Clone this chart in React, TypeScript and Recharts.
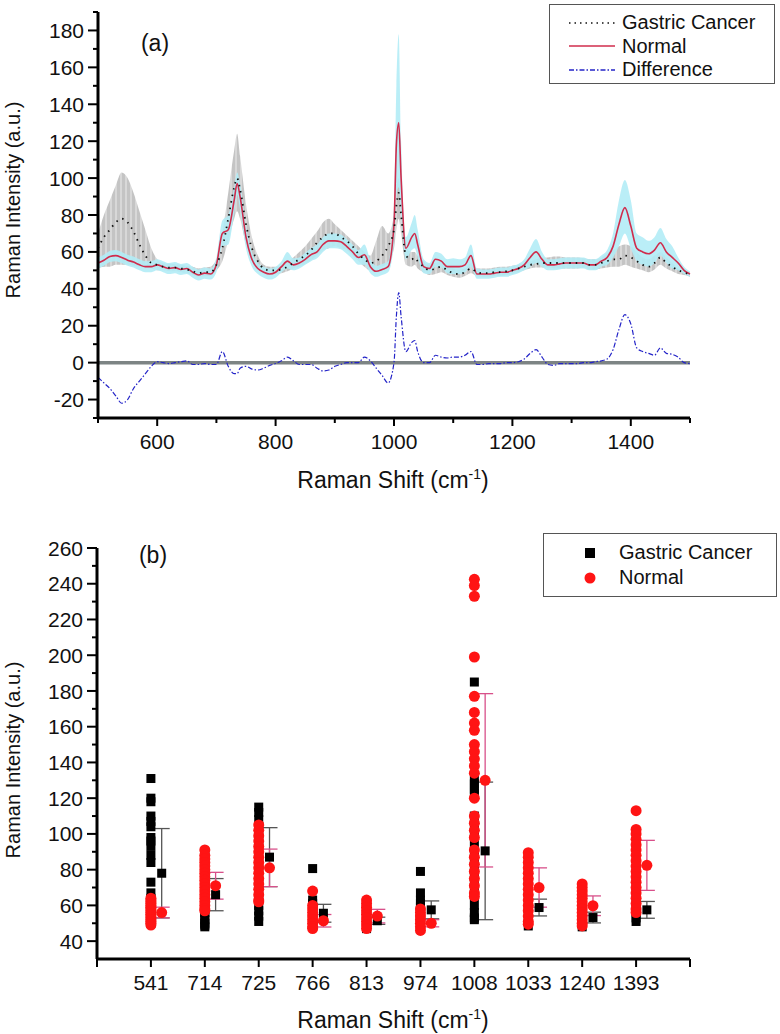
import {
  ComposedChart,
  Line,
  Area,
  Scatter,
  XAxis,
  YAxis,
  ReferenceLine,
  ErrorBar,
} from "recharts";

const FONT = '"Liberation Sans", Arial, Helvetica, sans-serif';

// ---- (a) mean spectra ----
const shift = [
  500, 510, 520, 530, 540, 550, 560, 570, 580, 590,
  600, 610, 620, 630, 640, 650, 660, 670, 680, 690,
  700, 710, 720, 730, 735, 740, 750, 760, 770, 780,
  790, 800, 810, 820, 830, 840, 850, 860, 870, 880,
  890, 900, 910, 920, 930, 940, 950, 960, 970, 980,
  990, 1000, 1004, 1008, 1012, 1020, 1030, 1035, 1040, 1050,
  1060, 1070, 1080, 1090, 1100, 1110, 1120, 1130, 1140, 1150,
  1160, 1170, 1180, 1190, 1200, 1210, 1220, 1230, 1240, 1250,
  1260, 1270, 1280, 1290, 1300, 1310, 1320, 1330, 1340, 1350,
  1360, 1370, 1380, 1390, 1400, 1410, 1420, 1430, 1440, 1450,
  1460, 1470, 1480, 1490, 1500,
];

const normalMean = [
  54, 55.5, 57.5, 58, 57, 55.5, 54.5, 53, 52, 52,
  53, 52, 51, 51.5, 50.5, 51, 49, 47.5, 48.5, 48,
  53, 70, 72, 88, 97, 90, 68, 56, 51, 49,
  48, 49, 52, 55, 53, 54, 56, 58.5, 60, 64,
  66, 66, 65.5, 63, 60, 57, 58.5, 52, 49.5, 50.5,
  52, 75, 118, 130, 100, 62, 68, 70, 64, 52,
  51, 56, 55, 52, 52, 52, 53, 58, 48, 48,
  48, 48.5, 49, 49, 50, 51, 53, 57, 60, 56,
  53, 53, 53.5, 54, 54, 54, 54, 53, 53, 55,
  57, 63, 75, 84, 74, 62, 60, 59, 61, 65,
  60, 57, 54, 50, 48,
];
const normalLow = [
  51, 52.5, 54.5, 55, 54, 52.5, 51.5, 50, 49, 49,
  50, 49, 48, 48.5, 47.5, 48, 46, 44.5, 45.5, 45,
  49, 63, 64, 81, 91, 83, 62, 52, 48, 46,
  45, 46, 49, 51, 50, 51, 53, 55, 56.5, 60,
  62, 62, 61.5, 59, 56, 53, 53, 48.5, 46.5, 47.5,
  49, 65, 90, 95, 80, 56, 61, 62, 57, 48.5,
  48, 52, 51.5, 48.5, 48, 48, 49, 52, 45.5, 45.5,
  45.5, 46, 46.5, 46.5, 47.5, 48.5, 50, 52, 54, 52,
  50, 50, 50.5, 51, 51, 51, 51, 50, 50, 52,
  53, 57, 63, 70, 62, 55, 53, 52, 54, 58,
  54, 51, 50, 48, 46.5,
];
const normalHigh = [
  57, 58.5, 60.5, 61, 60, 58.5, 57.5, 56, 55, 55,
  56, 55, 54, 54.5, 53.5, 54, 52, 50.5, 51.5, 51,
  57, 77, 80, 95, 103, 97, 74, 60, 54, 52,
  51, 52, 55, 60, 56.5, 57, 59.5, 62, 64, 68,
  70, 70, 69.5, 67, 64, 61, 64, 56, 52.5, 53.5,
  55, 85, 150, 178, 120, 68, 76, 80, 72, 56,
  54, 60, 59, 56, 56.5, 56, 57, 64, 51, 50.5,
  50.5, 51, 51.5, 51.5, 52.5, 53.5, 56, 62, 67, 60,
  56, 56, 56.5, 57, 57, 57, 57, 56, 56, 58,
  61, 70, 88, 99, 88, 70, 68, 66, 68, 73,
  67, 63, 57, 52, 49.5,
];

const cancerMean = [
  62, 68, 72, 76, 78, 76, 71, 64, 58, 54,
  53, 52, 51.5, 51.5, 51, 50.5, 49.5, 48.5, 49, 49,
  53, 62, 78, 95, 100, 94, 75, 62, 55, 51,
  50, 50, 50.5, 52, 54, 56, 58, 61, 65, 68,
  70, 70, 68, 66, 63, 59, 56, 54, 55, 58,
  63, 72, 85, 92, 80, 58, 56, 57, 55, 52,
  50, 51, 52, 50, 48.5, 48, 49, 51, 49, 48.5,
  48.5, 49, 49, 49.5, 50, 51, 52, 53, 53.5, 54,
  54, 54, 54, 54, 54, 54, 54, 53, 53, 54,
  55, 56, 56, 58, 57, 55, 53, 52, 54, 57,
  54, 52, 50, 49, 47.5,
];
const cancerLow = [
  51, 52, 52, 53, 53, 53, 52.5, 52, 51.5, 51,
  50, 50, 49.5, 49.5, 49, 48.5, 47.5, 46.5, 47, 47,
  50, 55, 66, 78, 82, 78, 64, 56, 52, 49,
  48, 48, 48.5, 49.5, 51, 52, 53.5, 55.5, 58, 61,
  62, 63, 62, 61, 58, 55, 52, 50, 50, 52,
  54, 62, 72, 78, 70, 53, 52, 53, 51, 49,
  47.5, 48, 49, 47.5, 46.5, 46, 47, 48.5, 47, 46.5,
  46.5, 47, 47, 47.5, 48, 49, 50, 51, 51.5, 51.5,
  51.5, 51, 51, 51, 51, 51, 51.5, 50.5, 50.5, 51,
  51.5, 52, 52, 53, 52, 51, 50, 49, 50.5, 53,
  51, 49.5, 48, 47.5, 46.5,
];
const cancerHigh = [
  70, 80, 88, 96, 103, 100, 92, 82, 72, 62,
  56, 54, 53.5, 53.5, 53, 52.5, 52, 51, 51.5, 52,
  56, 70, 92, 115, 124, 112, 86, 68, 58, 53,
  52, 52, 52.5, 55, 57, 60, 63, 67, 71, 76,
  78, 75, 72, 69, 66, 63, 60, 58, 66, 74,
  70, 80, 95, 100, 88, 63, 60, 60, 58, 55,
  53, 54, 55, 53, 51, 50.5, 51, 54, 51, 51,
  51, 51.5, 52, 52, 52.5, 53, 54, 55, 56, 57,
  57, 57.5, 57.5, 57, 57, 57, 56.5, 56, 56, 57,
  59, 61, 63, 64, 63, 60, 57, 56, 58, 60,
  57, 54, 51, 49.5, 48,
];

const difference = [
  -8, -11, -14, -18, -22, -20, -14, -10, -6, -2,
  0.5, 0, -0.5, 0, 0.5, 1, -1, -1, -0.5, -1,
  -1, 6, -2, -6, -6, -3, -2, -3.5, -4, -3,
  -1.5, -0.5, 1, 3, 1, -1, -1, -1, -3, -4.5,
  -4, -2, -1, 0, 0, 0, 3, 1, -3, -7,
  -11, 0, 25, 38, 25, 6, 11, 12, 6, 0,
  0, 4, 3, 2.5, 3, 3, 4, 6, -1, -1,
  -0.5, -0.5, -0.5, 0, 0, 0.5, 2, 5, 7, 3,
  -1, -1.5, -0.5, -0.5, -0.5, -0.5, 0, 0, 0.5, 1,
  2, 7, 18, 26, 21, 8, 6, 5, 4, 8,
  5, 4.5, 3, 0, -0.5,
];

const spectrumRows = shift.map((s, i) => ({
  shift: s,
  normal: normalMean[i],
  cancer: cancerMean[i],
  difference: difference[i],
  normalBand: [normalLow[i], normalHigh[i]],
  cancerBand: [cancerLow[i], cancerHigh[i]],
}));

// ---- (b) intensities at selected peaks ----
const peaks = ["541", "714", "725", "766", "813", "974", "1008", "1033", "1240", "1393"];

const cancerPoints = [
  [131, 120, 118, 110, 107, 104, 98, 96, 93, 88, 84, 73, 67, 64, 62, 60, 58, 56, 55, 54, 53, 52, 51, 50],
  [88, 86, 84, 82, 80, 78, 76, 74, 72, 70, 68, 66, 64, 62, 60, 58, 56, 54, 52, 50, 49, 48],
  [115, 112, 108, 104, 100, 96, 92, 88, 84, 80, 76, 72, 68, 64, 60, 57, 54, 51],
  [80.6, 63, 61, 59, 57, 55, 53, 51, 49, 48.5],
  [60, 58, 56, 54, 52, 50, 48, 47],
  [79, 67, 63, 61, 59, 57, 55, 53, 51],
  [185, 130, 128, 125, 123, 110, 105, 100, 95, 90, 85, 80, 75, 70, 65, 60, 56, 53, 52],
  [85, 80, 75, 70, 65, 60, 56, 52, 48.5],
  [70, 66, 62, 58, 54, 50, 48],
  [80, 75, 70, 65, 60, 56, 53, 51],
];
const normalPoints = [
  [64, 63, 62, 61, 60, 59, 58, 57, 56, 55, 54, 53, 52, 51, 50, 49],
  [91, 88, 86, 84, 82, 80, 78, 76, 74, 72, 70, 68, 66, 64, 62, 60, 58, 57],
  [105, 102, 99, 96, 93, 90, 87, 84, 81, 78, 75, 72, 69, 66, 63, 62],
  [68, 60, 58, 56, 54, 52, 50, 48, 47],
  [63, 61, 59, 57, 55, 53, 51, 49, 47],
  [58, 56, 54, 52, 50, 48, 46],
  [242.5, 239, 233, 199, 177, 168, 162, 158, 150, 146, 142, 138, 134, 120, 110, 106, 102, 98, 91, 87, 83, 79, 75, 71, 67, 65],
  [89.5, 87, 84, 81, 78, 75, 72, 69, 66, 63, 60, 57, 54, 51, 49.5],
  [72, 70, 68, 66, 64, 62, 60, 58, 56, 54, 52, 50, 48.5],
  [113, 102.5, 100, 97, 94, 91, 88, 85, 82, 79, 76, 73, 70, 67, 64, 61, 58, 56],
];
const cancerAvg = [78, 66, 87, 55.6, 51.4, 57.5, 90.5, 58.8, 53.2, 57.5];
const cancerSD = [25, 9, 16.5, 5, 2, 5, 38.5, 4.7, 3, 4.7];
const normalAvg = [56, 71, 81, 51.4, 54, 50, 130, 70, 59.8, 82.4];
const normalSD = [3, 7.5, 10.5, 3.5, 3.8, 2, 48.5, 11, 5.5, 14];

const cancerScatter = cancerPoints.flatMap((vals, i) => vals.map((v) => ({ x: i + 1, y: v })));
const normalScatter = normalPoints.flatMap((vals, i) => vals.map((v) => ({ x: i + 1, y: v })));
const cancerMeanPts = cancerAvg.map((v, i) => ({ x: i + 1.2, y: v, sd: cancerSD[i] }));
const normalMeanPts = normalAvg.map((v, i) => ({ x: i + 1.2, y: v, sd: normalSD[i] }));

// ---- axis helpers ----
function yTick(labeled: number[]) {
  return (props: any) => {
    const { x, y, payload } = props;
    const v = payload.value;
    const major = labeled.includes(v);
    return (
      <g>
        <line x1={x} x2={x - (major ? 10 : 5)} y1={y} y2={y} stroke="#000" strokeWidth={2} />
        {major && (
          <text x={x - 14} y={y} dy="0.36em" textAnchor="end" fontSize={21} fontFamily={FONT} fill="#111">
            {v}
          </text>
        )}
      </g>
    );
  };
}

function xTick(labelFor: (v: number) => string | null, majorLen = 8, minorLen = 5) {
  return (props: any) => {
    const { x, y, payload } = props;
    const label = labelFor(payload.value);
    return (
      <g>
        <line x1={x} x2={x} y1={y} y2={y + (label ? majorLen : minorLen)} stroke="#000" strokeWidth={2} />
        {label && (
          <text x={x} y={y + 23} dy="0.36em" textAnchor="middle" fontSize={21} fontFamily={FONT} fill="#111">
            {label}
          </text>
        )}
      </g>
    );
  };
}

const boxStyle = (left: number, top: number, width: number, height: number): React.CSSProperties => ({
  position: "absolute",
  left,
  top,
  width,
  height,
  border: "1px solid #555",
  background: "#fff",
  fontFamily: FONT,
  fontSize: 20,
  color: "#111",
  boxSizing: "border-box",
  paddingTop: 6,
});

const topLegendItems = [
  { name: "Gastric Cancer", stroke: "#111", dash: "1.5 4" },
  { name: "Normal", stroke: "#d02c4c", dash: undefined },
  { name: "Difference", stroke: "#2323c8", dash: "5 2 1.5 2" },
];

const TopLegend = () => (
  <div style={boxStyle(549, 4, 226, 80)}>
    {topLegendItems.map((it) => (
      <div key={it.name} style={{ display: "flex", alignItems: "center", height: 23.5 }}>
        <svg width={72} height={10}>
          <line x1={19} x2={65} y1={5} y2={5} stroke={it.stroke} strokeWidth={1.5} strokeDasharray={it.dash} />
        </svg>
        <span>{it.name}</span>
      </div>
    ))}
  </div>
);

const BottomLegend = () => (
  <div style={boxStyle(543, 533, 234, 64)}>
    <div style={{ display: "flex", alignItems: "center", height: 25 }}>
      <svg width={75} height={12}>
        <rect x={41} y={1} width={10} height={10} fill="#000" />
      </svg>
      <span>Gastric Cancer</span>
    </div>
    <div style={{ display: "flex", alignItems: "center", height: 25 }}>
      <svg width={75} height={12}>
        <circle cx={46} cy={6} r={5.5} fill="#ff1414" />
      </svg>
      <span>Normal</span>
    </div>
  </div>
);

const Square = (p: any) => <rect x={p.cx - 4.5} y={p.cy - 4.5} width={9} height={9} fill="#000" />;
const Dot = (p: any) => <circle cx={p.cx} cy={p.cy} r={5.5} fill="#ff1414" />;

const textAbs = (left: number, top: number, rotate = false): React.CSSProperties => ({
  position: "absolute",
  left,
  top,
  transform: rotate ? "translate(-50%, -50%) rotate(-90deg)" : "translate(-50%, -50%)",
  whiteSpace: "nowrap",
  fontFamily: FONT,
  color: "#111",
});

export default function App() {
  return (
    <div style={{ position: "absolute", left: 0, top: 0, width: 780, height: 1034, background: "#fff" }}>
      {/* (a) */}
      <div style={{ position: "absolute", left: 0, top: 0 }}>
        <ComposedChart width={780} height={500} data={spectrumRows} margin={{ top: 12, right: 90, bottom: 0, left: 0 }}>
          <defs>
            <pattern id="grayStripe" width="5" height="10" patternUnits="userSpaceOnUse">
              <rect width="5" height="10" fill="#c4c4c4" />
              <rect width="2" height="10" fill="#d8d8d8" />
            </pattern>
          </defs>
          <XAxis
            type="number"
            dataKey="shift"
            domain={[500, 1500]}
            ticks={[500, 600, 700, 800, 900, 1000, 1100, 1200, 1300, 1400, 1500]}
            interval={0}
            tickSize={0}
            tickMargin={0}
            tickLine={false}
            axisLine={{ stroke: "#000", strokeWidth: 3 }}
            tick={xTick((v) => (v % 200 === 0 && v > 500 && v < 1500 ? String(v) : null), 8, 5)}
            height={82}
          />
          <YAxis
            type="number"
            domain={[-30, 190]}
            ticks={[-30, -20, -10, 0, 10, 20, 30, 40, 50, 60, 70, 80, 90, 100, 110, 120, 130, 140, 150, 160, 170, 180, 190]}
            interval={0}
            tickSize={0}
            tickMargin={0}
            tickLine={false}
            axisLine={{ stroke: "#000", strokeWidth: 3 }}
            tick={yTick([-20, 0, 20, 40, 60, 80, 100, 120, 140, 160, 180])}
            width={98}
            allowDataOverflow
          />
          <Area dataKey="cancerBand" type="monotone" stroke="none" fill="url(#grayStripe)" fillOpacity={1} isAnimationActive={false} />
          <Area dataKey="normalBand" type="monotone" stroke="none" fill="#b2ecf6" fillOpacity={0.9} isAnimationActive={false} />
          <ReferenceLine y={0} stroke="#7d8484" strokeWidth={3.5} />
          <Line dataKey="normal" type="monotone" stroke="#d02c4c" strokeWidth={1.6} dot={false} isAnimationActive={false} />
          <Line dataKey="cancer" type="monotone" stroke="#111" strokeWidth={1.8} strokeDasharray="1.5 5" dot={false} isAnimationActive={false} />
          <Line dataKey="difference" type="monotone" stroke="#2323c8" strokeWidth={1.2} strokeDasharray="5 2 1.5 2" dot={false} isAnimationActive={false} />
        </ComposedChart>
      </div>
      <TopLegend />
      <div style={{ ...textAbs(155, 43), fontSize: 23 }}>(a)</div>
      <div style={{ ...textAbs(13, 200, true), fontSize: 20 }}>Raman Intensity (a.u.)</div>
      <div style={{ ...textAbs(393, 480), fontSize: 23 }}>
        Raman Shift (cm<sup style={{ fontSize: 14 }}>-1</sup>)
      </div>

      {/* (b) */}
      <div style={{ position: "absolute", left: 0, top: 500 }}>
        <ComposedChart width={780} height={534} margin={{ top: 48, right: 90, bottom: 0, left: 0 }}>
          <XAxis
            type="number"
            dataKey="x"
            domain={[0, 11]}
            ticks={[0, 1, 2, 3, 4, 5, 6, 7, 8, 9, 10, 11]}
            interval={0}
            tickSize={0}
            tickMargin={0}
            tickLine={false}
            axisLine={{ stroke: "#000", strokeWidth: 3 }}
            tick={xTick((v) => (v >= 1 && v <= 10 ? peaks[v - 1] : null), 8, 8)}
            height={75}
          />
          <YAxis
            type="number"
            dataKey="y"
            domain={[30, 260]}
            ticks={[40, 50, 60, 70, 80, 90, 100, 110, 120, 130, 140, 150, 160, 170, 180, 190, 200, 210, 220, 230, 240, 250, 260]}
            interval={0}
            tickSize={0}
            tickMargin={0}
            tickLine={false}
            axisLine={{ stroke: "#000", strokeWidth: 3 }}
            tick={yTick([40, 60, 80, 100, 120, 140, 160, 180, 200, 220, 240, 260])}
            width={97}
            allowDataOverflow
          />
          <Scatter data={cancerScatter} shape={Square} isAnimationActive={false} />
          <Scatter data={normalScatter} shape={Dot} isAnimationActive={false} />
          <Scatter data={cancerMeanPts} shape={Square} isAnimationActive={false}>
            <ErrorBar dataKey="sd" direction="y" width={8} stroke="#555" strokeWidth={1.3} />
          </Scatter>
          <Scatter data={normalMeanPts} shape={Dot} isAnimationActive={false}>
            <ErrorBar dataKey="sd" direction="y" width={8} stroke="#d8508a" strokeWidth={1.3} />
          </Scatter>
        </ComposedChart>
      </div>
      <BottomLegend />
      <div style={{ ...textAbs(153, 555), fontSize: 23 }}>(b)</div>
      <div style={{ ...textAbs(13, 760, true), fontSize: 20 }}>Raman Intensity (a.u.)</div>
      <div style={{ ...textAbs(393, 1020), fontSize: 23 }}>
        Raman Shift (cm<sup style={{ fontSize: 14 }}>-1</sup>)
      </div>
    </div>
  );
}
